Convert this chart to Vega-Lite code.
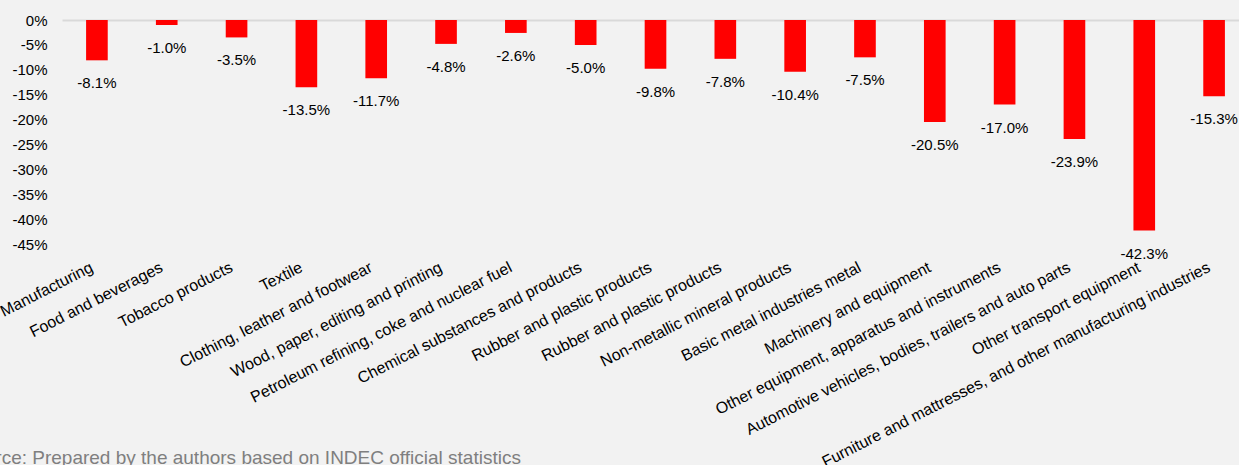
{
  "$schema": "https://vega.github.io/schema/vega-lite/v6.json",
  "autosize": "none",
  "padding": {"left": 62, "top": 20, "right": 0, "bottom": 221},
  "width": 1187,
  "height": 224,
  "background": "#f2f2f2",
  "config": {
    "view": {"stroke": null},
    "font": "Liberation Sans",
    "axis": {"labelOverlap": false, "labelBound": false},
    "locale": {"number": {"decimal": ".", "thousands": ",", "grouping": [3], "currency": ["$", ""], "minus": "-"}}
  },
  "data": {
    "values": [
      {"key": "01|Manufacturing", "value": -0.081},
      {"key": "02|Food and beverages", "value": -0.010},
      {"key": "03|Tobacco products", "value": -0.035},
      {"key": "04|Textile", "value": -0.135},
      {"key": "05|Clothing, leather and footwear", "value": -0.117},
      {"key": "06|Wood, paper, editing and printing", "value": -0.048},
      {"key": "07|Petroleum refining, coke and nuclear fuel", "value": -0.026},
      {"key": "08|Chemical substances and products", "value": -0.050},
      {"key": "09|Rubber and plastic products", "value": -0.098},
      {"key": "10|Rubber and plastic products", "value": -0.078},
      {"key": "11|Non-metallic mineral products", "value": -0.104},
      {"key": "12|Basic metal industries metal", "value": -0.075},
      {"key": "13|Machinery and equipment", "value": -0.205},
      {"key": "14|Other equipment, apparatus and instruments", "value": -0.170},
      {"key": "15|Automotive vehicles, bodies, trailers and auto parts", "value": -0.239},
      {"key": "16|Other transport equipment", "value": -0.423},
      {"key": "17|Furniture and mattresses, and other manufacturing industries", "value": -0.153}
    ]
  },
  "encoding": {
    "y": {
      "field": "value", "type": "quantitative",
      "scale": {"domain": [-0.45, 0], "nice": false, "zero": true},
      "axis": {
        "format": ".0%", "domain": false, "ticks": false, "grid": false,
        "values": [0, -0.05, -0.1, -0.15, -0.2, -0.25, -0.3, -0.35, -0.4, -0.45],
        "labelOverlap": false, "labelBound": false,
        "labelFontSize": 15, "labelColor": "#000000", "labelPadding": 15, "title": null
      }
    }
  },
  "resolve": {"axis": {"x": "independent"}},
  "layer": [
    {
      "mark": {"type": "bar", "color": "#ff0000"},
      "encoding": {
        "x": {
          "field": "key", "type": "nominal", "sort": null,
          "scale": {"paddingInner": 0.69, "paddingOuter": 0.345},
          "axis": {
            "orient": "bottom",
            "domain": false, "ticks": false, "grid": false,
            "labelExpr": "split(datum.label, '|')[1]",
            "labelAngle": -27, "labelAlign": "right", "labelBaseline": "middle",
            "labelPadding": 22, "labelOffset": -5, "labelFontSize": 16, "labelColor": "#000000",
            "labelLimit": 1000, "labelOverlap": false,
            "title": "Source: Prepared by the authors based on INDEC official statistics",
            "titleX": -101, "titleY": 219, "titleAlign": "left", "titleBaseline": "alphabetic",
            "titleFontSize": 19, "titleFontWeight": "normal", "titleColor": "#7f7f7f"
          }
        }
      }
    },
    {
      "mark": {"type": "text", "baseline": "top", "dy": 16, "fontSize": 15, "color": "#000000"},
      "encoding": {
        "x": {
          "field": "key", "type": "nominal", "sort": null,
          "axis": {"orient": "top", "labels": false, "ticks": false, "grid": false, "title": null,
                   "domain": true, "domainColor": "#d9d9d9", "domainWidth": 2}
        },
        "text": {"field": "value", "type": "quantitative", "format": ".1%"}
      }
    }
  ]
}
